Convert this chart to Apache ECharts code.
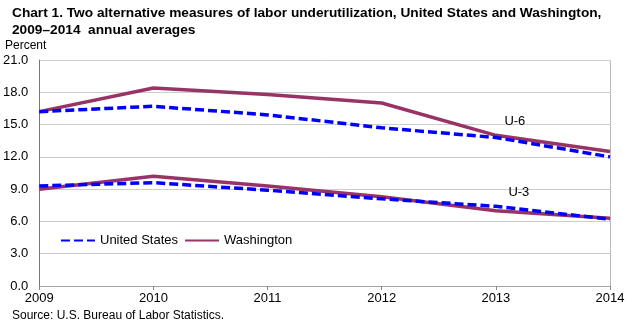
<!DOCTYPE html>
<html>
<head>
<meta charset="utf-8">
<script src="https://cdn.jsdelivr.net/npm/echarts@6/dist/echarts.min.js"></script>
<style>
  html, body { margin: 0; padding: 0; background: #fff; }
  #chart { width: 634px; height: 330px; }
</style>
</head>
<body>
<div id="chart"></div>
<script>
// Annual averages, percent
const years = ['2009', '2010', '2011', '2012', '2013', '2014'];
const usU6 = [16.2, 16.7, 15.9, 14.7, 13.8, 12.0];
const waU6 = [16.2, 18.4, 17.8, 17.0, 14.0, 12.5];
const usU3 = [9.3, 9.6, 8.9, 8.1, 7.4, 6.2];
const waU3 = [9.0, 10.2, 9.3, 8.3, 7.0, 6.3];
const measureLabels = ['U-6', 'U-3'];

const US_COLOR = '#0000ff';
const WA_COLOR = '#993366';
const FONT = '"Liberation Sans", Arial, sans-serif';

const chart = echarts.init(document.getElementById('chart'), null, { renderer: 'canvas' });

const usStyle = { color: US_COLOR, width: 3.5, type: [9, 4] };
const waStyle = { color: WA_COLOR, width: 3.5 };

// floating measure label placed inside the plot, shifted right of the 2013 gridline
function measureMark(text, yValue, dx) {
  return {
    symbol: 'circle', symbolSize: 1,
    itemStyle: { color: 'rgba(0,0,0,0)' },
    label: { show: true, position: 'inside', offset: [dx, 0], color: '#000', fontSize: 13, fontFamily: FONT, formatter: text },
    data: [{ coord: ['2013', yValue] }]
  };
}

chart.setOption({
  animation: false,
  textStyle: { fontFamily: FONT },
  title: {
    text: 'Chart 1. Two alternative measures of labor underutilization, United States and Washington,\n2009\u20132014  annual averages',
    left: 7, top: 0,
    textStyle: { fontFamily: FONT, fontSize: 13.7, fontWeight: 'bold', color: '#000', lineHeight: 17 }
  },
  graphic: [
    { type: 'text', left: 5, top: 40, style: { text: 'Percent', font: '12px ' + FONT, fill: '#000' } },
    { type: 'text', left: 12, top: 310, style: { text: 'Source: U.S. Bureau of Labor Statistics.', font: '12px ' + FONT, fill: '#000' } }
  ],
  legend: {
    left: 55, top: 229,
    itemWidth: 34, itemHeight: 12, itemGap: 6,
    itemStyle: { opacity: 0 },
    textStyle: { fontFamily: FONT, fontSize: 13, color: '#000' },
    data: ['United States', 'Washington']
  },
  grid: { left: 39, right: 24, top: 60, bottom: 44 },
  xAxis: [{
    type: 'category', data: years, boundaryGap: false,
    axisLine: { lineStyle: { color: '#888', width: 1 } },
    axisTick: { show: true, length: 4, lineStyle: { color: '#888' } },
    axisLabel: { color: '#000', fontSize: 13, margin: 6, fontFamily: FONT },
    splitLine: { show: false }
  }, {
    type: 'category', data: years, boundaryGap: false, position: 'top',
    axisLine: { lineStyle: { color: '#aaa', type: 'dotted' } },
    axisTick: { show: false }, axisLabel: { show: false }
  }],
  yAxis: [{
    type: 'value', min: 0, max: 21, interval: 3,
    axisLine: { show: true, lineStyle: { color: '#777' } },
    axisTick: { show: false },
    axisLabel: { color: '#000', fontSize: 13, margin: 11, fontFamily: FONT, formatter: v => v.toFixed(1) },
    splitLine: { show: true, lineStyle: { color: '#cbcfc8', width: 1 } }
  }, {
    type: 'value', min: 0, max: 21, interval: 3, position: 'right',
    axisLine: { show: true, lineStyle: { color: '#aaa', type: 'dotted' } },
    axisTick: { show: false }, axisLabel: { show: false }, splitLine: { show: false }
  }],
  series: [
    { name: 'United States', type: 'line', data: usU6, symbol: 'none', lineStyle: usStyle, itemStyle: { color: US_COLOR }, z: 3 },
    { name: 'Washington', type: 'line', data: waU6, symbol: 'none', lineStyle: waStyle, itemStyle: { color: WA_COLOR }, z: 2,
      markPoint: measureMark(measureLabels[0], 15.33, 19) },
    { name: 'United States', type: 'line', data: usU3, symbol: 'none', lineStyle: usStyle, itemStyle: { color: US_COLOR }, z: 3 },
    { name: 'Washington', type: 'line', data: waU3, symbol: 'none', lineStyle: waStyle, itemStyle: { color: WA_COLOR }, z: 2,
      markPoint: measureMark(measureLabels[1], 8.74, 23) }
  ]
});
</script>
</body>
</html>
